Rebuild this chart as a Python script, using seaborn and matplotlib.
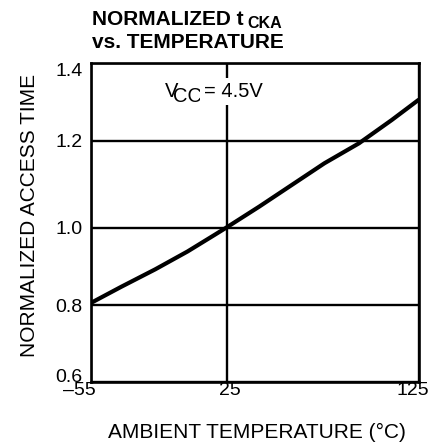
import numpy as np
import pandas as pd
import matplotlib
matplotlib.use("Agg")
import matplotlib.pyplot as plt
from matplotlib.transforms import ScaledTranslation
import seaborn as sns

# ---- data ----
temperature = [-55, -37, -17, 2, 18, 25, 42, 59, 76, 94, 111, 125]
norm_access = [0.805, 0.847, 0.892, 0.938, 0.981, 1.0, 1.048, 1.098, 1.148, 1.194, 1.253, 1.305]
x_ticks = [-55, 25, 125]
x_tick_labels = ["\u201355", "25", "125"]
y_ticks = [0.6, 0.8, 1.0, 1.2, 1.4]
y_tick_labels = ["0.6", "0.8", "1.0", "1.2", "1.4"]
title_main = "NORMALIZED t"
title_sub = "CKA"
title_line2 = "vs. TEMPERATURE"
x_label = "AMBIENT TEMPERATURE (\u00b0C)"
y_label = "NORMALIZED ACCESS TIME"
note_v, note_sub, note_rest = "V", "CC", "= 4.5V"

sns.set_style("white")
plt.rcParams["font.family"] = ["Liberation Sans", "DejaVu Sans"]
plt.rcParams["text.color"] = "black"
plt.rcParams["axes.labelcolor"] = "black"
plt.rcParams["xtick.color"] = "black"
plt.rcParams["ytick.color"] = "black"


def piecewise(src, dst):
    src = np.asarray(src, float)
    dst = np.asarray(dst, float)

    def f(x):
        x = np.asarray(x, float)
        y = np.interp(x, src, dst)
        lo = dst[0] + (x - src[0]) * (dst[1] - dst[0]) / (src[1] - src[0])
        hi = dst[-1] + (x - src[-1]) * (dst[-1] - dst[-2]) / (src[-1] - src[-2])
        y = np.where(x < src[0], lo, y)
        y = np.where(x > src[-1], hi, y)
        return y
    return f


# nonuniform grid spacing of the original chart
xs_src, xs_dst = [-55, 25, 125], [0, 135.8, 327.8]
ys_src, ys_dst = [0.6, 0.8, 1.0, 1.2, 1.4], [0, 77, 154.5, 241.3, 319]

fig = plt.figure(figsize=(4.38, 4.45), dpi=100)
W, H = 438, 445
ax = fig.add_axes([90.7 / W, (H - 382) / H, 327.8 / W, 319 / H])

df = pd.DataFrame({"temp": temperature, "ratio": norm_access})

ax.set_xscale("function", functions=(piecewise(xs_src, xs_dst), piecewise(xs_dst, xs_src)))
ax.set_yscale("function", functions=(piecewise(ys_src, ys_dst), piecewise(ys_dst, ys_src)))

sns.lineplot(data=df, x="temp", y="ratio", color="black", linewidth=3.0, ax=ax,
             legend=False, zorder=3)

ax.set_xlim(-55, 125)
ax.set_ylim(0.6, 1.4)
ax.set_xticks(x_ticks, x_tick_labels)
ax.set_yticks(y_ticks, y_tick_labels)
ax.minorticks_off()
ax.grid(True, color="black", linewidth=1.7)
for s in ax.spines.values():
    s.set_visible(True)
    s.set_color("black")
    s.set_linewidth(1.9)
ax.tick_params(axis="both", length=0, labelsize=14, colors="black")
ax.tick_params(axis="y", pad=6)
ax.tick_params(axis="x", pad=0)

# tick label alignment tweaks
ytl = ax.yaxis.get_major_ticks()
ytl[0].label1.set_va("baseline")
ytl[-1].label1.set_va("top")
x_off = [-11, 3.5, -6]
for t, dx in zip(ax.xaxis.get_major_ticks(), x_off):
    t.label1.set_transform(t.label1.get_transform() +
                           ScaledTranslation(dx / 100, 0, fig.dpi_scale_trans))

ax.set_xlabel(x_label, fontsize=15, color="black")
ax.xaxis.label.set_va("baseline")
ax.xaxis.set_label_coords((257 - 90.7) / 327.8, (382 - 437.5) / 319)
ax.set_ylabel(y_label, fontsize=15, color="black")
ax.yaxis.label.set_va("center")
ax.yaxis.set_label_coords((30 - 90.7) / 327.8, (382 - 215) / 319)

# annotation V_CC = 4.5V
tv = ax.text(-11.2, 1.313, note_v, fontsize=14.5, va="baseline", ha="left", zorder=5)
tcc = ax.annotate(note_sub, xy=(1, 0), xycoords=tv, xytext=(-5, -5),
                  textcoords="offset pixels", fontsize=14.5, va="bottom", ha="left", zorder=5)
ax.annotate(note_rest, xy=(1, 0), xycoords=(tcc, tv), xytext=(2, 0),
            textcoords="offset pixels", fontsize=14.5, va="bottom", ha="left", zorder=5,
            bbox=dict(boxstyle="square,pad=0.2", fc="white", ec="none"))

# title
t1 = fig.text(92 / W, 1 - 25 / H, title_main, fontsize=15, fontweight="bold", va="baseline", ha="left")
ax.annotate(title_sub, xy=(1, 0), xycoords=t1, xytext=(4, -2), textcoords="offset pixels",
            fontsize=11.5, fontweight="bold", va="bottom", ha="left", annotation_clip=False)
fig.text(92 / W, 1 - 48.3 / H, title_line2, fontsize=15, fontweight="bold", va="baseline", ha="left")

fig.savefig("out.png", dpi=100)
